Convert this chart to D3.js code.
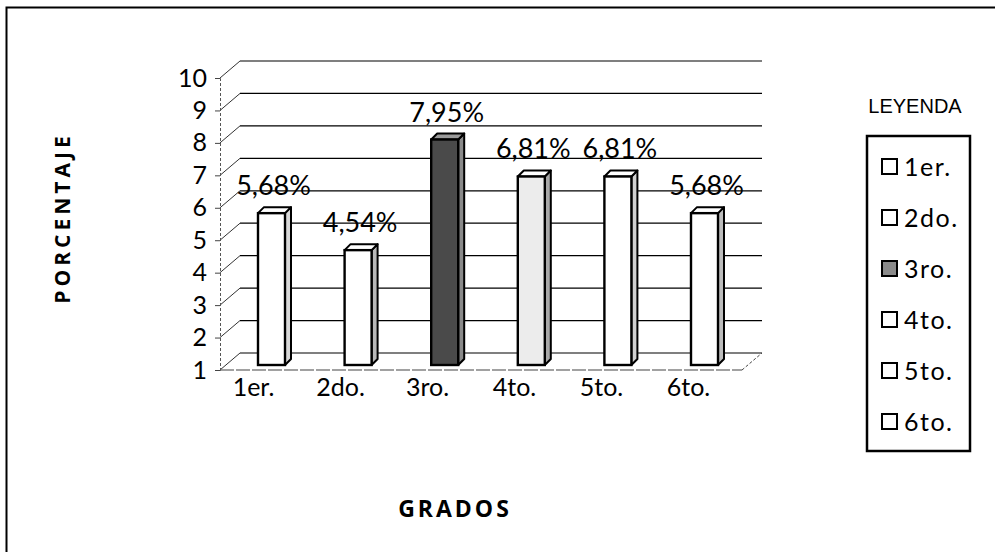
<!DOCTYPE html>
<html><head><meta charset="utf-8">
<script src="https://cdn.jsdelivr.net/npm/d3@7"></script>
<style>
html,body{margin:0;padding:0;background:#fff;}
svg{display:block;}
</style></head>
<body>
<svg id="chart" width="995" height="552"></svg>
<script>
const categories = ["1er.","2do.","3ro.","4to.","5to.","6to."];
const values = [5.68, 4.54, 7.95, 6.81, 6.81, 5.68];
const valueLabels = ["5,68%","4,54%","7,95%","6,81%","6,81%","5,68%"];
const yTicks = [1,2,3,4,5,6,7,8,9,10];
const frontFills = ["#ffffff","#ffffff","#4a4a4a","#ececec","#ffffff","#ffffff"];
const sideFills = ["#d8d8d8","#b8b8b8","#8a8a8a","#a8a8a8","#d0d0d0","#bcbcbc"];
const legendFills = ["#ffffff","#ffffff","#8a8a8a","#ffffff","#ffffff","#ffffff"];
const yTitle = "PORCENTAJE";
const xTitle = "GRADOS";
const legendTitle = "LEYENDA";

const svg = d3.select("#chart");
const font = "Lato, 'Open Sans', sans-serif";

// outer frame
svg.append("rect").attr("x",6.5).attr("y",7.5).attr("width",1000).attr("height",560)
  .attr("fill","none").attr("stroke","#000").attr("stroke-width",2);

const x = d3.scaleBand().domain(categories).range([220,742]);
const y = d3.scaleLinear().domain([1,10]).range([370,78]);
const dx = 20, dy = -17;

// back wall gridlines
const g = svg.append("g");
g.selectAll("line.grid").data(yTicks).join("line")
  .attr("x1",220+dx).attr("x2",742+dx)
  .attr("y1",d=>y(d)+dy).attr("y2",d=>y(d)+dy)
  .attr("stroke","#000").attr("stroke-width",1.2);
// side wall diagonals
g.selectAll("line.diag").data(yTicks).join("line")
  .attr("x1",220).attr("x2",220+dx)
  .attr("y1",d=>y(d)).attr("y2",d=>y(d)+dy)
  .attr("stroke","#333").attr("stroke-width",1);
// floor front edge and right diagonal
g.append("line").attr("x1",220).attr("x2",742).attr("y1",y(1)).attr("y2",y(1))
  .attr("stroke","#444").attr("stroke-width",1.2).attr("stroke-dasharray","14,2");
g.append("line").attr("x1",742).attr("x2",742+dx).attr("y1",y(1)).attr("y2",y(1)+dy)
  .attr("stroke","#444").attr("stroke-width",1).attr("stroke-dasharray","3,2");

// y axis
const yAxis = d3.axisLeft(y).tickValues(yTicks).tickSize(5).tickPadding(8).tickFormat(d3.format("d"));
const ax = svg.append("g").attr("transform","translate(220,0)").call(yAxis);
ax.select(".domain").attr("stroke","#555").attr("stroke-dasharray","3,2");
ax.selectAll(".tick line").attr("stroke","#444");
ax.selectAll(".tick text").attr("font-family",font).attr("font-size",25).attr("fill","#000");

// category labels
svg.append("g").selectAll("text").data(categories).join("text")
  .attr("x",d=>x(d)+x.bandwidth()/2-10)
  .attr("y",396)
  .attr("text-anchor","middle")
  .attr("font-family",font).attr("font-size",25).attr("fill","#000")
  .text(d=>d);

// bars
const bw = 27, dd = 6, barShift = 8, barDrop = 5;
const bars = svg.append("g");
categories.forEach((c,i)=>{
  const cx = x(c)+x.bandwidth()/2+barShift + i*(-0.4);
  const xl = cx-bw/2, xr = cx+bw/2;
  const top = y(values[i])-barDrop, bot = y(1)-barDrop;
  const gb = bars.append("g");
  gb.append("polygon")
    .attr("points",[[xr,top],[xr+dd,top-dd],[xr+dd,bot-dd],[xr,bot]].join(" "))
    .attr("fill",sideFills[i]).attr("stroke","#000").attr("stroke-width",2).attr("stroke-linejoin","round");
  gb.append("polygon")
    .attr("points",[[xl,top],[xl+dd,top-dd],[xr+dd,top-dd],[xr,top]].join(" "))
    .attr("fill",i===2?"#9a9a9a":"#fff").attr("stroke","#000").attr("stroke-width",2).attr("stroke-linejoin","round");
  gb.append("rect").attr("x",xl).attr("y",top).attr("width",bw).attr("height",bot-top)
    .attr("fill",frontFills[i]).attr("stroke","#000").attr("stroke-width",2.4);
  gb.append("text").attr("x",cx+2).attr("y",top-18)
    .attr("text-anchor","middle").attr("font-family",font).attr("font-size",27).attr("fill","#000")
    .text(valueLabels[i]);
});

// axis titles
svg.append("text").attr("transform","translate(70,218) rotate(-90)")
  .attr("text-anchor","middle").attr("font-family","'Open Sans', sans-serif").attr("font-weight","bold")
  .attr("font-size",21).attr("letter-spacing",4).attr("fill","#000").text(yTitle);
svg.append("text").attr("x",455).attr("y",517)
  .attr("text-anchor","middle").attr("font-family","'Open Sans', sans-serif").attr("font-weight","bold")
  .attr("font-size",23).attr("letter-spacing",3).attr("fill","#000").text(xTitle);

// legend
svg.append("text").attr("x",915).attr("y",113).attr("text-anchor","middle")
  .attr("font-family","'Liberation Sans', Arial, sans-serif").attr("font-size",20).attr("fill","#000")
  .text(legendTitle);
svg.append("rect").attr("x",867).attr("y",136).attr("width",103).attr("height",315)
  .attr("fill","#fff").attr("stroke","#000").attr("stroke-width",2.5);
const ly = d3.scalePoint().domain(categories).range([167,422]);
const lg = svg.append("g").selectAll("g").data(categories).join("g")
  .attr("transform",d=>`translate(0,${ly(d)})`);
lg.append("rect").attr("x",882).attr("y",-8).attr("width",15).attr("height",15)
  .attr("fill",(d,i)=>legendFills[i]).attr("stroke","#000").attr("stroke-width",2);
lg.append("text").attr("x",904).attr("y",9).attr("font-family",font).attr("font-size",25)
  .attr("letter-spacing",1.5).attr("fill","#000").text(d=>d);
</script>
</body></html>
